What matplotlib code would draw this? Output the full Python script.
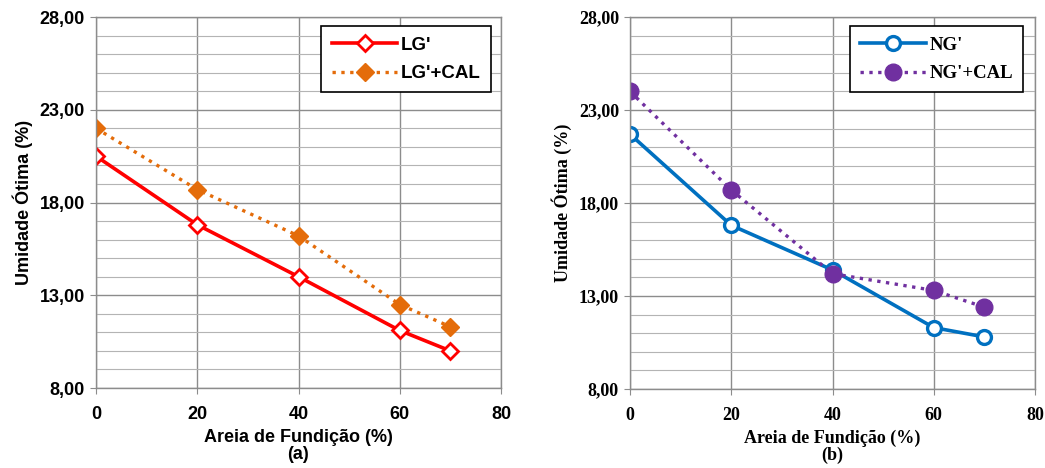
import matplotlib.pyplot as plt
from matplotlib.ticker import MultipleLocator

# data
areia = [0, 20, 40, 60, 70]
lg = [20.5, 16.8, 14.0, 11.1, 10.0]
lg_cal = [22.0, 18.7, 16.2, 12.5, 11.3]
ng = [21.7, 16.8, 14.4, 11.3, 10.8]
ng_cal = [24.0, 18.7, 14.2, 13.3, 12.4]

x_ticks = [0, 20, 40, 60, 80]
y_ticks = [8, 13, 18, 23, 28]

fig = plt.figure(figsize=(10.45, 4.68), dpi=100)
W, H = 1045, 468
ax1 = fig.add_axes([96 / W, 1 - 388 / H, 405 / W, 371 / H])
ax2 = fig.add_axes([630 / W, 1 - 389 / H, 405 / W, 372 / H])


def style_axis(ax, family, letter):
    ax.set_xlim(0, 80)
    ax.set_ylim(8, 28)
    font = dict(family=family, fontweight="bold", fontsize=13)
    ax.set_xticks(x_ticks)
    ax.set_xticklabels([str(v) for v in x_ticks], **font)
    ax.set_yticks(y_ticks)
    ax.set_yticklabels([f"{v:.2f}".replace(".", ",") for v in y_ticks], **font)
    ax.yaxis.set_minor_locator(MultipleLocator(1))
    ax.grid(True, which="major", color="#8c8c8c", linewidth=1.0)
    ax.grid(True, which="minor", axis="y", color="#b4b4b4", linewidth=0.8)
    ax.set_axisbelow(True)
    for sp in ax.spines.values():
        sp.set_color("#8c8c8c")
        sp.set_linewidth(1.0)
    ax.tick_params(which="minor", length=0)
    ax.tick_params(which="major", length=4, color="#8c8c8c", direction="out")
    ax.tick_params(axis="y", pad=4)
    ax.tick_params(axis="x", pad=9)
    ax.set_ylabel("Umidade Ótima (%)", family=family, fontweight="bold", fontsize=13, labelpad=5)
    ax.set_xlabel(f"Areia de Fundição (%)\n({letter})", family=family, fontweight="bold",
                  fontsize=13, labelpad=4, linespacing=1.0)


# (a)
ax1.plot(areia, lg, color="#ff0000", linewidth=2.6, marker="D", markersize=8,
         markerfacecolor="white", markeredgecolor="#ff0000", markeredgewidth=2, label="LG'")
ax1.plot(areia, lg_cal, color="#e46c0a", linewidth=2.4, linestyle=":", marker="D", markersize=9,
         markerfacecolor="#e46c0a", markeredgecolor="#e46c0a", label="LG'+CAL")
style_axis(ax1, "Liberation Sans", "a")
leg1 = ax1.legend(loc="upper right", bbox_to_anchor=(0.99, 0.99),
                  prop={"family": "Liberation Sans", "weight": "bold", "size": 13.5},
                  fancybox=False, edgecolor="black", framealpha=1, borderpad=0.55, labelspacing=0.6,
                  handlelength=3.5, handletextpad=0.2, borderaxespad=0.3)
leg1.get_frame().set_linewidth(1.2)

# (b)
ax2.plot(areia, ng, color="#0070c0", linewidth=2.6, marker="o", markersize=10,
         markerfacecolor="white", markeredgecolor="#0070c0", markeredgewidth=2.4, label="NG'")
ax2.plot(areia, ng_cal, color="#7030a0", linewidth=2.4, linestyle=":", marker="o", markersize=12,
         markerfacecolor="#7030a0", markeredgecolor="#7030a0", label="NG'+CAL")
style_axis(ax2, "Liberation Serif", "b")
leg2 = ax2.legend(loc="upper right", bbox_to_anchor=(0.985, 0.99),
                  prop={"family": "Liberation Serif", "weight": "bold", "size": 13.5},
                  fancybox=False, edgecolor="black", framealpha=1, borderpad=0.55, labelspacing=0.6,
                  handlelength=3.5, handletextpad=0.2, borderaxespad=0.3)
leg2.get_frame().set_linewidth(1.2)

fig.savefig("out.png", dpi=100)
